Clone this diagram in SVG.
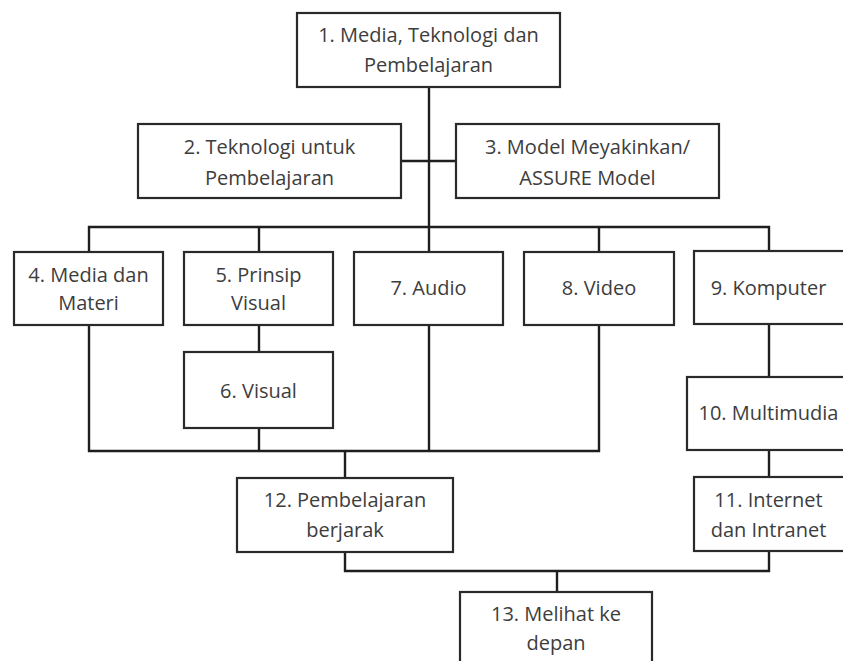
<svg xmlns="http://www.w3.org/2000/svg" width="843" height="661" viewBox="0 0 843 661">
<style>
.box{fill:#fff;stroke:#2a2a2a;stroke-width:2.2}
.lbl{font-family:"Open Sans","Noto Sans",sans-serif;font-size:20px;fill:#3d3d3d;text-anchor:middle}
.con{stroke:#1e1e1e;stroke-width:2.4;fill:none;stroke-linecap:square}
</style>
<rect width="843" height="661" fill="#fff"/>
<g id="connectors">
<path class="con" d="M429,87V227M401,161H456M89,227H769M89,227V252M259,227V252M429,227V252M599,227V252M769,227V252"/>
<path class="con" d="M89,325V451M259,325V352M259,428V451M429,325V451M599,325V451M89,451H599M345,451V478"/>
<path class="con" d="M769,324V377M769,450V477M769,551V571M345,552V571M345,571H769M557,571V592"/>
</g>
<g id="n1"><rect class="box" x="297" y="13" width="263" height="74"/><text class="lbl" x="428.5" y="42">1. Media, Teknologi dan</text><text class="lbl" x="428.5" y="72">Pembelajaran</text></g>
<g id="n2"><rect class="box" x="138" y="124" width="263" height="74"/><text class="lbl" x="269.5" y="154">2. Teknologi untuk</text><text class="lbl" x="269.5" y="185">Pembelajaran</text></g>
<g id="n3"><rect class="box" x="456" y="124" width="263" height="74"/><text class="lbl" x="587.5" y="154">3. Model Meyakinkan/</text><text class="lbl" x="587.5" y="185">ASSURE Model</text></g>
<g id="n4"><rect class="box" x="14" y="252" width="149" height="73"/><text class="lbl" x="88.5" y="282">4. Media dan</text><text class="lbl" x="88.5" y="310">Materi</text></g>
<g id="n5"><rect class="box" x="184" y="252" width="149" height="73"/><text class="lbl" x="258.5" y="282">5. Prinsip</text><text class="lbl" x="258.5" y="310">Visual</text></g>
<g id="n6"><rect class="box" x="184" y="352" width="149" height="76"/><text class="lbl" x="258.5" y="398">6. Visual</text></g>
<g id="n7"><rect class="box" x="354" y="252" width="149" height="73"/><text class="lbl" x="428.5" y="295">7. Audio</text></g>
<g id="n8"><rect class="box" x="524" y="252" width="150" height="73"/><text class="lbl" x="599" y="295">8. Video</text></g>
<g id="n9"><rect class="box" x="694" y="251" width="160" height="73"/><text class="lbl" x="768.5" y="295">9. Komputer</text></g>
<g id="n10"><rect class="box" x="687" y="377" width="170" height="73"/><text class="lbl" x="768.5" y="420">10. Multimudia</text></g>
<g id="n11"><rect class="box" x="694" y="477" width="160" height="74"/><text class="lbl" x="768.5" y="507">11. Internet</text><text class="lbl" x="768.5" y="537">dan Intranet</text></g>
<g id="n12"><rect class="box" x="237" y="478" width="216" height="74"/><text class="lbl" x="345" y="507">12. Pembelajaran</text><text class="lbl" x="345" y="537">berjarak</text></g>
<g id="n13"><rect class="box" x="460" y="592" width="192" height="90"/><text class="lbl" x="556" y="621">13. Melihat ke</text><text class="lbl" x="556" y="650">depan</text></g>
</svg>
